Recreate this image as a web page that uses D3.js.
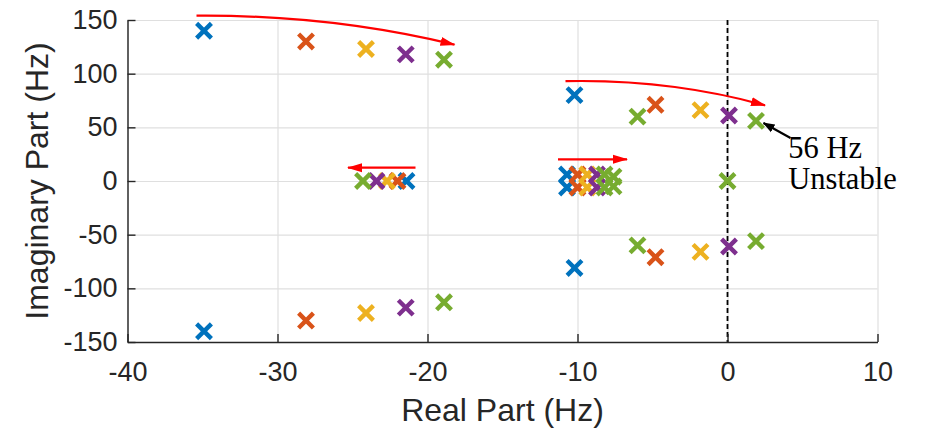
<!DOCTYPE html>
<html>
<head>
<meta charset="utf-8">
<script src="https://cdn.jsdelivr.net/npm/d3@7"></script>
<style>
    body { margin: 0; background: #fff; }
    svg { display: block; }
</style>
</head>
<body>
<div id="chart"></div>
<script>
// eigenvalues [real (Hz), imag (Hz)] for each case
var case1 = [[-34.9, 140], [-34.9, -140], [-21.4, 0], [-10.7, 6], [-10.7, -6], [-10.2, 80], [-10.2, -81]];
var case2 = [[-28.1, 130], [-28.1, -130], [-22.0, 0], [-10.0, 6], [-10.0, -6], [-4.8, 71], [-4.8, -71]];
var case3 = [[-24.1, 123], [-24.1, -123], [-22.7, 0], [-9.35, 6], [-9.35, -6], [-1.8, 66], [-1.8, -66]];
var case4 = [[-21.45, 118], [-21.45, -118], [-23.4, 0], [-8.7, 6], [-8.7, -6], [0.1, 61], [0.1, -61]];
var case5 = [[-18.9, 113], [-18.9, -113], [-24.3, 0], [-8.2, 6], [-8.2, -6], [-7.6, 4], [-7.6, -5],
             [-6.0, 60], [-6.0, -60], [1.9, 56], [1.9, -56], [0, 0]];

var xTicks = [-40, -30, -20, -10, 0, 10];
var yTicks = [-150, -100, -50, 0, 50, 100, 150];

// red trend arrows, data coords (curved ones have a control point)
var trendArrows = [
    {from: [-35.4, 154], ctrl: [-26.5, 155], to: [-18.2, 127]},
    {from: [-10.8, 93], ctrl: [-3.8, 95], to: [2.5, 70.5]},
    {from: [-20.8, 12.4], to: [-25.3, 12.4]},
    {from: [-11.3, 20.2], to: [-6.7, 20.2]}
];
var noteArrow = {from: [4.2, 40], to: [2.4, 54]};
var noteLines = ["56 Hz", "Unstable"];

var colors = ["#0072BD", "#D95319", "#EDB120", "#7E2F8E", "#77AC30"];

drawPoles = function () {
    var width = 935, height = 433;
    var pLeft = 127.5, pRight = 877.5, pTop = 20, pBottom = 342;

    var svg = d3.select("#chart").append("svg")
        .attr("width", width)
        .attr("height", height);

    var x = d3.scaleLinear().domain([-40, 10]).range([pLeft, pRight]);
    var y = d3.scaleLinear().domain([-150, 150]).range([pBottom, pTop]);
    var plain = function (d) { return String(d); }; // hyphen minus like matlab

    var defs = svg.append("defs");
    defs.append("marker")
        .attr("id", "redHead")
        .attr("markerUnits", "userSpaceOnUse")
        .attr("viewBox", "0 -5 15 10")
        .attr("refX", 14).attr("refY", 0)
        .attr("markerWidth", 15).attr("markerHeight", 10)
        .attr("orient", "auto")
        .append("path").attr("d", "M0,-4.5L15,0L0,4.5Z").attr("fill", "#ff0000");
    defs.append("marker")
        .attr("id", "blackHead")
        .attr("markerUnits", "userSpaceOnUse")
        .attr("viewBox", "0 -5 12 10")
        .attr("refX", 11).attr("refY", 0)
        .attr("markerWidth", 12).attr("markerHeight", 10)
        .attr("orient", "auto")
        .append("path").attr("d", "M0,-4.5L12,0L0,4.5Z").attr("fill", "#000");

    // grid
    svg.append("g")
        .attr("class", "grid")
        .attr("transform", "translate(0," + pBottom + ")")
        .call(d3.axisBottom(x).tickValues(xTicks).tickSize(-(pBottom - pTop)).tickFormat(""))
        .call(function (g) { g.select(".domain").remove(); });
    svg.append("g")
        .attr("class", "grid")
        .attr("transform", "translate(" + pLeft + ",0)")
        .call(d3.axisLeft(y).tickValues(yTicks).tickSize(-(pRight - pLeft)).tickFormat(""))
        .call(function (g) { g.select(".domain").remove(); });
    svg.selectAll(".grid line")
        .attr("stroke", "#dfdfdf")
        .attr("stroke-width", 1.2);

    // dashed stability boundary
    svg.append("line")
        .attr("x1", x(0)).attr("x2", x(0))
        .attr("y1", pTop).attr("y2", pBottom)
        .attr("stroke", "#000")
        .attr("stroke-width", 1.8)
        .attr("stroke-dasharray", "5,3");

    // axes (ticks point inward like matlab)
    var xAxis = svg.append("g")
        .attr("transform", "translate(0," + pBottom + ")")
        .call(d3.axisBottom(x).tickValues(xTicks).tickFormat(plain)
            .tickSizeInner(-8).tickSizeOuter(0).tickPadding(20));
    var yAxis = svg.append("g")
        .attr("transform", "translate(" + pLeft + ",0)")
        .call(d3.axisLeft(y).tickValues(yTicks).tickFormat(plain)
            .tickSizeInner(-8).tickSizeOuter(0).tickPadding(10));

    [xAxis, yAxis].forEach(function (g) {
        g.select(".domain").attr("stroke", "#262626").attr("stroke-width", 1.4);
        g.selectAll(".tick line").attr("stroke", "#262626").attr("stroke-width", 1.4);
        g.selectAll(".tick text")
            .attr("fill", "#262626")
            .style("font-family", "'Liberation Sans', Arial, sans-serif")
            .style("font-size", "27px");
    });

    svg.append("text")
        .attr("x", (pLeft + pRight) / 2)
        .attr("y", 421)
        .attr("text-anchor", "middle")
        .attr("fill", "#262626")
        .style("font-family", "'Liberation Sans', Arial, sans-serif")
        .style("font-size", "32px")
        .text("Real Part (Hz)");

    svg.append("text")
        .attr("transform", "translate(48," + ((pTop + pBottom) / 2) + ") rotate(-90)")
        .attr("text-anchor", "middle")
        .attr("fill", "#262626")
        .style("font-family", "'Liberation Sans', Arial, sans-serif")
        .style("font-size", "32px")
        .text("Imaginary Part (Hz)");

    // crosses
    var cases = [case1, case2, case3, case4, case5];
    var arm = 7.4;
    var crossPath = function (d) {
        var cx = x(d[0]), cy = y(d[1]);
        return "M" + (cx - arm) + "," + (cy - arm) + "L" + (cx + arm) + "," + (cy + arm) +
            "M" + (cx - arm) + "," + (cy + arm) + "L" + (cx + arm) + "," + (cy - arm);
    };

    svg.selectAll("g.case")
        .data(cases)
        .enter().append("g")
        .attr("class", "case")
        .attr("stroke", function (d, i) { return colors[i]; })
        .selectAll("path")
        .data(function (d) { return d; })
        .enter().append("path")
        .attr("d", crossPath)
        .attr("fill", "none")
        .attr("stroke-width", 4.4);

    // red arrows
    svg.selectAll("path.trend")
        .data(trendArrows)
        .enter().append("path")
        .attr("class", "trend")
        .attr("d", function (d) {
            var p = d3.path();
            p.moveTo(x(d.from[0]), y(d.from[1]));
            if (d.ctrl) {
                p.quadraticCurveTo(x(d.ctrl[0]), y(d.ctrl[1]), x(d.to[0]), y(d.to[1]));
            } else {
                p.lineTo(x(d.to[0]), y(d.to[1]));
            }
            return p.toString();
        })
        .attr("fill", "none")
        .attr("stroke", "#ff0000")
        .attr("stroke-width", 2.2)
        .attr("marker-end", "url(#redHead)");

    // annotation
    svg.append("line")
        .attr("x1", x(noteArrow.from[0])).attr("y1", y(noteArrow.from[1]))
        .attr("x2", x(noteArrow.to[0])).attr("y2", y(noteArrow.to[1]))
        .attr("stroke", "#000")
        .attr("stroke-width", 2.2)
        .attr("marker-end", "url(#blackHead)");

    svg.append("text")
        .attr("x", x(4.05))
        .attr("y", y(21))
        .style("font-family", "'Liberation Serif', 'Times New Roman', serif")
        .style("font-size", "30.5px")
        .attr("fill", "#000")
        .selectAll("tspan")
        .data(noteLines)
        .enter().append("tspan")
        .attr("x", x(4.05))
        .attr("dy", function (d, i) { return i === 0 ? 0 : 31; })
        .text(function (d) { return d; });
};

drawPoles();
</script>
</body>
</html>
